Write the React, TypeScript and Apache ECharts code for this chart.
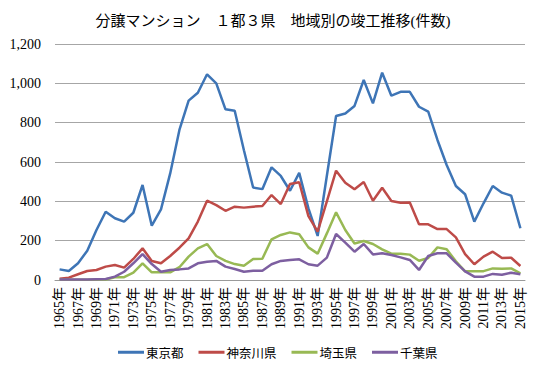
import React, { useEffect, useRef } from "react";
import * as echarts from "echarts";

const years: string[] = [];
for (let y = 1965; y <= 2015; y++) years.push(y + "年");

const seriesNames = ["東京都", "神奈川県", "埼玉県", "千葉県"];

const tokyo = [
  54, 46, 85, 149, 254, 347, 314, 297, 342, 483,
  276, 359, 542, 763, 912, 952, 1046, 1000, 868, 861,
  660, 470, 462, 573, 529, 454, 545, 364, 224, 530,
  834, 847, 885, 1017, 898, 1054, 937, 957, 957, 881,
  856, 712, 585, 478, 436, 297, 390, 478, 444, 429,
  263,
];
const kanagawa = [
  7, 12, 29, 46, 51, 68, 76, 63, 107, 161,
  97, 85, 122, 164, 212, 297, 403, 381, 352, 373,
  368, 373, 376, 432, 386, 488, 497, 325, 246, 400,
  556, 495, 461, 498, 403, 469, 402, 393, 394, 283,
  283, 259, 259, 217, 132, 80, 119, 144, 112, 113,
  71,
];
const saitama = [
  1, 1, 1, 1, 2, 3, 14, 14, 37, 85,
  39, 39, 39, 65, 119, 161, 183, 122, 97, 81,
  73, 107, 108, 207, 229, 242, 233, 166, 134, 237,
  344, 254, 186, 198, 183, 156, 134, 134, 129, 98,
  112, 166, 156, 95, 44, 44, 45, 59, 57, 59,
  34,
];
const chiba = [
  2, 2, 2, 3, 4, 5, 17, 42, 85, 132,
  81, 42, 51, 54, 59, 85, 93, 97, 68, 56,
  42, 47, 47, 80, 97, 102, 105, 80, 73, 114,
  234, 190, 144, 183, 130, 136, 127, 115, 102, 51,
  122, 136, 136, 88, 44, 17, 17, 31, 27, 37,
  29,
];

const colors = ["#3e75b6", "#be4b48", "#98b954", "#7d5fa0"];

export default function App() {
  const ref = useRef<HTMLDivElement>(null);
  useEffect(() => {
    if (!ref.current) return;
    const chart = echarts.init(ref.current, null, { renderer: "svg" });
    const serif = "'Liberation Serif', 'Noto Sans CJK JP', serif";
    const dataSets = [tokyo, kanagawa, saitama, chiba];
    chart.setOption({
      animation: false,
      backgroundColor: "#ffffff",
      color: colors,
      title: {
        text: "分譲マンション　１都３県　地域別の竣工推移(件数)",
        left: 268,
        textAlign: "center",
        top: 8,
        textStyle: {
          fontFamily: serif,
          fontSize: 15,
          fontWeight: "normal",
          color: "#000",
        },
      },
      legend: {
        top: 341,
        left: 113,
        icon: "rect",
        itemWidth: 26,
        itemHeight: 3,
        itemGap: 15,
        textStyle: {
          fontFamily: "'Noto Sans CJK JP', sans-serif",
          fontSize: 12.5,
          color: "#000",
          padding: [0, 0, 0, -3],
        },
        data: seriesNames,
      },
      grid: { left: 55, right: 15, top: 44, bottom: 90, containLabel: false },
      xAxis: {
        type: "category",
        data: years,
        boundaryGap: true,
        axisLine: { show: true, lineStyle: { color: "#9a9a9a", width: 1 } },
        axisTick: { show: false },
        axisLabel: {
          interval: 1,
          rotate: 90,
          fontFamily: serif,
          fontSize: 14,
          color: "#000",
          margin: 7,
        },
      },
      yAxis: {
        type: "value",
        min: 0,
        max: 1200,
        interval: 200,
        axisLine: { show: false },
        axisTick: { show: false },
        splitLine: { lineStyle: { color: "#a6a6a6", width: 1 } },
        axisLabel: {
          fontFamily: serif,
          fontSize: 14,
          color: "#000",
          margin: 14,
          formatter: (v: number) => v.toLocaleString("en-US"),
        },
      },
      series: seriesNames.map((name, i) => ({
        name,
        type: "line",
        data: dataSets[i],
        symbol: "none",
        lineStyle: { width: 2.5, color: colors[i] },
        itemStyle: { color: colors[i] },
      })),
    });
    return () => chart.dispose();
  }, []);
  return <div ref={ref} style={{ width: 540, height: 370, margin: -8 }} />;
}
